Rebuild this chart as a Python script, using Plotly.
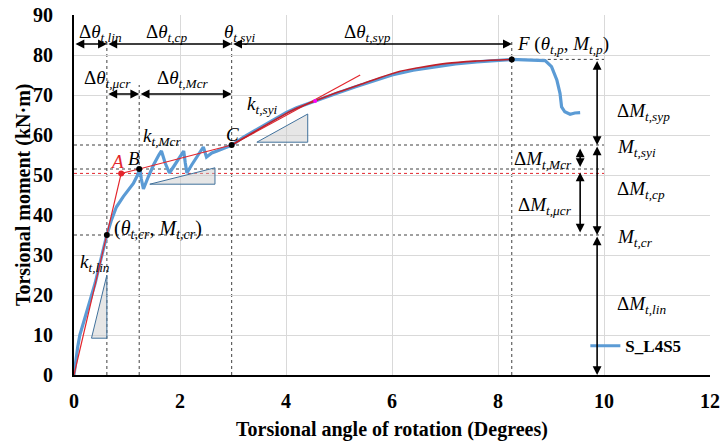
import plotly.graph_objects as go

# ---------------- data ----------------
# Experimental curve S_L4S5 (torsional angle in degrees, moment in kN·m)
blue_theta = [0, 0.03, 0.07, 0.11, 0.2, 0.3, 0.4, 0.49, 0.56, 0.62, 0.7, 0.8, 0.93,
              1.03, 1.12, 1.2, 1.245, 1.27, 1.31, 1.4, 1.5, 1.6, 1.65, 1.72, 1.8,
              1.9, 1.98, 2.07, 2.1, 2.13, 2.22, 2.32, 2.44, 2.5, 2.6, 2.7, 2.8, 2.9,
              2.98, 3.2, 3.4, 3.6, 3.8, 4.0, 4.2, 4.4, 4.6, 4.8, 5.0, 5.3, 5.6, 6.0,
              6.4, 6.8, 7.2, 7.6, 8.0, 8.26, 8.5, 8.89, 9.01, 9.11, 9.17, 9.2, 9.26,
              9.36, 9.45, 9.55]
blue_M = [0, 3.5, 7, 10, 14, 18, 23, 28, 32, 35, 38.5, 42, 44.6,
          46.5, 47.9, 50, 51.7, 49, 46.5, 49.5, 52.5, 55, 56, 53, 50.5,
          52.5, 54, 56, 53, 50.5, 52.5, 54.5, 57, 54.5, 55.5, 56, 56.5, 57,
          57.5, 59.5, 61, 62.5, 64, 65.6, 66.8, 67.8, 68.6, 69.7, 70.6, 72, 73.3, 75,
          76.2, 77.1, 77.8, 78.3, 78.7, 78.9, 78.8, 78.6, 77.1, 73.75, 70.4, 67, 65.8,
          65.2, 65.5, 65.6]

# Fitted curve from C to F
fit_theta = [2.975, 3.3, 3.57, 3.9, 4.14, 4.55, 5.0, 5.46, 6.09, 6.5, 7.03, 7.6, 8.26]
fit_M = [57.5, 60.0, 62.1, 64.6, 66.3, 68.5, 70.8, 72.9, 75.7, 76.8, 77.9, 78.5, 78.9]

# Key points: origin, A, B, C (trilinear idealisation)
tri_theta = [0, 0.89, 1.23, 2.975]
tri_M = [0, 50.4, 51.5, 57.5]

# Tangent k_t,syi from C
tan_theta = [2.975, 5.4]
tan_M = [57.5, 75.0]

# Black key points: cracking point, B, C, F
key_theta = [0.62, 1.23, 2.975, 8.26]
key_M = [35, 51.5, 57.5, 78.9]
A_theta, A_M = 0.89, 50.4
theta_cr, M_cr = 0.62, 35
theta_B, M_B = 1.23, 51.5
theta_C, M_C = 2.975, 57.5
theta_F, M_F = 8.26, 78.9

x_ticks = [0, 2, 4, 6, 8, 10, 12]
y_ticks = [0, 10, 20, 30, 40, 50, 60, 70, 80, 90]

BLUE = "#5B9BD5"
RED = "#E3262D"
SERIF = "Liberation Serif"
MATHSZ = 19

fig = go.Figure()

fig.add_trace(go.Scatter(x=blue_theta, y=blue_M, mode="lines", name="S_L4S5",
                         line=dict(color=BLUE, width=3.2)))
fig.add_trace(go.Scatter(x=tri_theta, y=tri_M, mode="lines", showlegend=False,
                         line=dict(color=RED, width=1.2)))
fig.add_trace(go.Scatter(x=tan_theta, y=tan_M, mode="lines", showlegend=False,
                         line=dict(color=RED, width=1.2)))
fig.add_trace(go.Scatter(x=fit_theta, y=fit_M, mode="lines", showlegend=False,
                         line=dict(color="#C0202A", width=1.6, shape="spline")))
fig.add_trace(go.Scatter(x=[4.55], y=[68.5], mode="markers", showlegend=False,
                         marker=dict(color="#FF00FF", size=4)))
fig.add_trace(go.Scatter(x=[A_theta], y=[A_M], mode="markers", showlegend=False,
                         marker=dict(color=RED, size=6)))
fig.add_trace(go.Scatter(x=key_theta, y=key_M, mode="markers", showlegend=False,
                         marker=dict(color="black", size=6)))

shapes = []
DOT = dict(color="#404040", width=1, dash="dot")
# horizontal dotted reference lines
for yy in [M_C, M_B, M_cr]:
    shapes.append(dict(type="line", xref="x", yref="y", x0=0, x1=10, y0=yy, y1=yy, line=DOT, layer="below"))
shapes.append(dict(type="line", xref="x", yref="y", x0=0, x1=10, y0=A_M, y1=A_M,
                   line=dict(color=RED, width=1, dash="dot"), layer="below"))
shapes.append(dict(type="line", xref="x", yref="y", x0=theta_F, x1=10, y0=M_F, y1=M_F, line=DOT, layer="below"))
# vertical dotted lines
for xx, top in [(theta_cr, 84), (theta_B, 72.5), (theta_C, 84), (theta_F, 84)]:
    shapes.append(dict(type="line", xref="x", yref="y", x0=xx, x1=xx, y0=0, y1=top, line=DOT, layer="below"))
# stiffness triangles
TRI = dict(color="#41719C", width=1)
for pts in [[(0.33, 9.2), (0.62, 9.2), (0.62, 25)],
            [(1.43, 47.7), (2.66, 47.7), (2.66, 51.8)],
            [(3.45, 58.2), (4.41, 58.2), (4.41, 65.25)]]:
    path = "M {},{} L {},{} L {},{} Z".format(*[v for p in pts for v in p])
    shapes.append(dict(type="path", xref="x", yref="y", path=path,
                       fillcolor="rgba(200,200,200,0.45)", line=TRI))

ann = []


def darrow(x0, y0, x1, y1):
    ann.append(dict(x=x1, y=y1, ax=x0, ay=y0, xref="x", yref="y", axref="x", ayref="y",
                    text="", showarrow=True, arrowhead=2, arrowsize=1.1, arrowwidth=1.6,
                    arrowcolor="black", arrowside="end+start"))


# top row arrows
ROW1, ROW2 = 82.75, 70.25
darrow(0, ROW1, theta_cr, ROW1)
darrow(theta_cr, ROW1, theta_C, ROW1)
darrow(theta_C, ROW1, theta_F, ROW1)
darrow(theta_cr, ROW2, theta_B, ROW2)
darrow(theta_B, ROW2, theta_C, ROW2)
# right side arrows
XR1, XR2 = 9.87, 9.55
darrow(XR1, M_F, XR1, M_C)
darrow(XR1, M_C, XR1, M_cr)
darrow(XR1, M_cr, XR1, 0)
darrow(XR2, 57.0, XR2, 52.0)
darrow(XR2, 51.0, XR2, 35.6)


def label(x, y, text, xanchor="left", color="black", size=MATHSZ):
    ann.append(dict(x=x, y=y, xref="x", yref="y", text=text, showarrow=False,
                    xanchor=xanchor, yanchor="middle",
                    font=dict(family=SERIF, size=size, color=color)))


def sub(s):
    return "<sub><i>" + s + "</i></sub>"


label(0.05, 85.5, "Δ<i>θ</i>" + sub("t,lin"))
label(1.33, 85.5, "Δ<i>θ</i>" + sub("t,cp"))
label(2.79, 85.5, "<i>θ</i>" + sub("t,syi"))
label(5.05, 85.5, "Δ<i>θ</i>" + sub("t,syp"))
label(0.15, 74, "Δ<i>θ</i>" + sub("t,μcr"))
label(1.52, 74, "Δ<i>θ</i>" + sub("t,Mcr"))
label(1.27, 59.5, "<i>k</i>" + sub("t,Mcr"))
label(3.22, 67.5, "<i>k</i>" + sub("t,syi"))
label(0.64, 53.5, "<i>A</i>", color=RED)
label(0.99, 54.2, "<i>B</i>")
label(2.83, 60.2, "<i>C</i>")
label(0.72, 36.5, "(<i>θ</i>" + sub("t,cr") + ", <i>M</i>" + sub("t,cr") + ")", size=20)
label(0.07, 28, "<i>k</i>" + sub("t,lin"))
label(8.32, 82.5, "<i>F</i> (<i>θ</i>" + sub("t,p") + ", <i>M</i>" + sub("t,p") + ")")
label(10.2, 65.8, "Δ<i>M</i>" + sub("t,syp"))
label(10.2, 56.8, "<i>M</i>" + sub("t,syi"))
label(10.2, 46.3, "Δ<i>M</i>" + sub("t,cp"))
label(10.2, 34.2, "<i>M</i>" + sub("t,cr"))
label(10.2, 17.5, "Δ<i>M</i>" + sub("t,lin"))
label(9.43, 53.8, "Δ<i>M</i>" + sub("t,Mcr"), xanchor="right")
label(9.43, 42.3, "Δ<i>M</i>" + sub("t,μcr"), xanchor="right")

TICKF = dict(family=SERIF, size=20, color="black", weight="bold")
TITLEF = dict(family=SERIF, size=20, color="black", weight="bold")
LEGF = dict(family=SERIF, size=17, color="black", weight="bold")

# y-axis title placed as a rotated annotation for exact position
ann.append(dict(x=-0.08, y=0.5, xref="paper", yref="paper", text="Torsional moment (kN·m)",
                showarrow=False, textangle=-90, xanchor="center", yanchor="middle",
                font=TITLEF))

fig.update_layout(
    width=725, height=443,
    margin=dict(l=74, r=15, t=15, b=68),
    paper_bgcolor="white", plot_bgcolor="white",
    shapes=shapes, annotations=ann,
    showlegend=True,
    legend=dict(x=0.804, y=0.08, xanchor="left", yanchor="middle",
                bgcolor="rgba(0,0,0,0)", font=LEGF, itemwidth=30),
    xaxis=dict(range=[0, 12], tickvals=x_ticks, ticktext=[str(v) for v in x_ticks],
               showgrid=True, gridcolor="#D9D9D9", gridwidth=1, zeroline=False,
               showline=True, linecolor="black", linewidth=2, ticks="",
               tickfont=TICKF, ticklabelstandoff=7, automargin=False,
               title=dict(text="Torsional angle of rotation (Degrees)", font=TITLEF, standoff=11)),
    yaxis=dict(range=[0, 90], tickvals=y_ticks, ticktext=[str(v) for v in y_ticks],
               showgrid=True, gridcolor="#D9D9D9", gridwidth=1, zeroline=False,
               showline=True, linecolor="black", linewidth=2, ticks="",
               tickfont=TICKF, ticklabelstandoff=15, automargin=False),
)

fig.write_html("out.html")
